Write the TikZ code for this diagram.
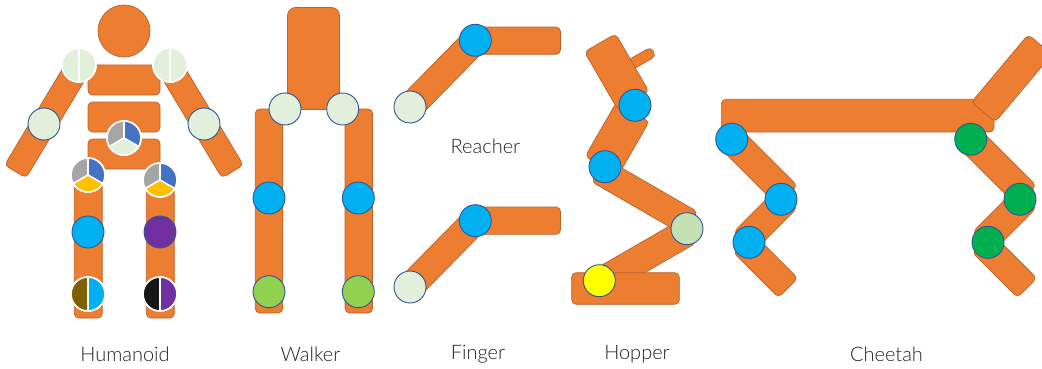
\documentclass[tikz,border=0pt]{standalone}
\usepackage{fontspec}
\setmainfont{Lato}[UprightFont={* Light}]
\definecolor{limbfill}{HTML}{ED7D31}
\definecolor{limbline}{HTML}{B9622A}
\definecolor{ringblue}{HTML}{2F5597}
\definecolor{palegreen}{HTML}{E2EFDA}
\definecolor{sagegreen}{HTML}{C5E0B4}
\definecolor{limegreen}{HTML}{92D050}
\definecolor{deepgreen}{HTML}{00B050}
\definecolor{skyblue}{HTML}{00B0F0}
\definecolor{royalblue}{HTML}{4472C4}
\definecolor{violet}{HTML}{7030A0}
\definecolor{midgray}{HTML}{A5A5A5}
\definecolor{gold}{HTML}{FFC000}
\definecolor{olive}{HTML}{7F6000}
\definecolor{nearblack}{HTML}{171717}
\definecolor{brightyellow}{HTML}{FFFF00}
\definecolor{captiontext}{HTML}{222222}
\tikzset{
  limb/.style={draw=limbline,fill=limbfill,line width=0.7pt,rounded corners=4.5pt,
    inner sep=0pt,outer sep=0pt},
  joint/.style={circle,draw=ringblue,line width=0.9pt,minimum size=32pt,inner sep=0pt,outer sep=0pt},
  splitjoint/.style={circle,draw=white,line width=1.6pt,minimum size=34pt,inner sep=0pt,outer sep=0pt},
  spoke/.style={draw=white,line width=1.6pt},
  caption/.style={text=captiontext,font=\fontsize{20}{24}\selectfont,inner sep=0pt}
}
% name, centre, length, width, angle
\newcommand{\limbbar}[5]{\node[limb,minimum width=#3pt,minimum height=#4pt,rotate=#5] (#1) at (#2) {};}
% name, centre, fill
\newcommand{\pin}[3]{\node[joint,fill=#3] (#1) at (#2) {};}
% The y axis points down here, so arc angles below are the negatives of the on-page angles.
% name, centre, left half, right half
\newcommand{\halfpin}[4]{%
  \node[splitjoint] (#1) at (#2) {};
  \fill[#3] (#1.center) ++(-90:17) arc[start angle=-90,end angle=-270,radius=17] -- cycle;
  \fill[#4] (#1.center) ++(-90:17) arc[start angle=-90,end angle=90,radius=17] -- cycle;
  \draw[spoke] (#1.north) -- (#1.south);
  \node[splitjoint] at (#1.center) {};}
% name, centre, upper right, bottom, upper left
\newcommand{\tripin}[5]{%
  \node[splitjoint] (#1) at (#2) {};
  \fill[#3] (#1.center) -- ++(-90:17) arc[start angle=-90,end angle=30,radius=17] -- cycle;
  \fill[#4] (#1.center) -- ++(30:17) arc[start angle=30,end angle=150,radius=17] -- cycle;
  \fill[#5] (#1.center) -- ++(150:17) arc[start angle=150,end angle=270,radius=17] -- cycle;
  \draw[spoke] (#1.center) -- (#1.90);
  \draw[spoke] (#1.center) -- (#1.-30);
  \draw[spoke] (#1.center) -- (#1.210);
  \node[splitjoint] at (#1.center) {};}
\begin{document}
\begin{tikzpicture}[x=1pt,y=-1pt]
\useasboundingbox (0,0) rectangle (1042,369);
\clip (0,0) rectangle (1042,369);

% Humanoid
\node[limb,circle,minimum size=52pt] (head) at (124,31) {};
\limbbar{armL}{47.5,118}{125}{25}{59}
\limbbar{armR}{200.5,118}{125}{25}{-59}
\limbbar{chest}{124,80}{72}{30}{0}
\limbbar{waist}{124,117}{72}{30}{0}
\limbbar{pelvis}{124,154}{72}{30}{0}
\limbbar{legL}{88.3,249}{28}{138}{0}
\limbbar{legR}{160.3,249}{28}{138}{0}
\halfpin{shoulderL}{79,65}{palegreen}{palegreen}
\halfpin{shoulderR}{170,65}{palegreen}{palegreen}
\pin{elbowL}{44,124}{palegreen}
\pin{elbowR}{204,124}{palegreen}
\tripin{abdomen}{124,138}{royalblue}{palegreen}{midgray}
\tripin{hipL}{88,175}{royalblue}{gold}{midgray}
\tripin{hipR}{160,180}{royalblue}{gold}{midgray}
\pin{kneeL}{88,232}{skyblue}
\pin{kneeR}{160,232}{violet}
\halfpin{ankleL}{88,294}{olive}{skyblue}
\halfpin{ankleR}{160,294}{nearblack}{violet}

% Walker
\node[limb,rounded corners=8pt,minimum width=52pt,minimum height=102pt] (walkTorso) at (313.5,58.5) {};
\limbbar{walkLegL}{269,211}{27.5}{204}{0}
\limbbar{walkLegR}{358.8,211}{27.5}{204}{0}
\pin{walkHipL}{285,109}{palegreen}
\pin{walkHipR}{342.7,109}{palegreen}
\pin{walkKneeL}{269,198}{skyblue}
\pin{walkKneeR}{358.3,198}{skyblue}
\pin{walkFootL}{269,291.7}{limegreen}
\pin{walkFootR}{358.3,291.7}{limegreen}

% Finger, upper and lower arm
\limbbar{upperTip}{515,40.7}{91}{27.3}{0}
\limbbar{upperBase}{442.7,73.7}{93}{27}{45.5}
\pin{upperRoot}{410,107}{palegreen}
\pin{upperMid}{475.3,40.3}{skyblue}
\limbbar{lowerTip}{515,220.7}{91}{27.3}{0}
\limbbar{lowerBase}{442.7,253.7}{93}{27}{45.5}
\pin{lowerRoot}{410,287}{palegreen}
\pin{lowerMid}{475.3,220.7}{skyblue}

% Hopper
\limbbar{hopNeck}{641.7,58.3}{27}{10.5}{30}
\limbbar{hopThigh}{617.2,139}{62.5}{38}{60}
\limbbar{hopTorso}{616.7,71.7}{66.7}{36}{-60}
\limbbar{hopShin}{644.4,256.7}{104}{28}{30}
\limbbar{hopCalf}{644.5,196.7}{107}{27}{-30}
\limbbar{hopFoot}{625.5,288.5}{107.6}{31.6}{0}
\pin{hopWaist}{635,105.3}{skyblue}
\pin{hopKnee}{605,166.7}{skyblue}
\pin{hopAnkle}{687,228.7}{sagegreen}
\pin{hopToe}{599.3,280.7}{brightyellow}

% Cheetah
\limbbar{catThighF}{760,168.2}{77.4}{28}{-45}
\limbbar{catShinF}{765.5,220}{62}{28}{45}
\limbbar{catFootF}{765.5,265.3}{64}{27.5}{-45}
\limbbar{catThighB}{999,168.2}{77.4}{28}{-45}
\limbbar{catShinB}{1004.5,220}{62}{28}{45}
\limbbar{catFootB}{1004.5,265.3}{64}{27.5}{-45}
\limbbar{catBody}{857.7,115.7}{272.7}{32.7}{0}
\limbbar{catHead}{1011.7,78.3}{88.3}{31}{50}
\pin{catHipF}{731.7,139.3}{skyblue}
\pin{catKneeF}{781,199.3}{skyblue}
\pin{catAnkleF}{749,242.3}{skyblue}
\pin{catHipB}{970.7,139.3}{deepgreen}
\pin{catKneeB}{1020,199.3}{deepgreen}
\pin{catAnkleB}{988,242.3}{deepgreen}

% Captions
\node[caption] (capHumanoid) at (125,354) {Humanoid};
\node[caption] (capWalker) at (310.5,354) {Walker};
\node[caption] (capFinger) at (478,354) {Finger};
\node[caption] (capHopper) at (637,354) {Hopper};
\node[caption] (capCheetah) at (886.5,354) {Cheetah};
\node[caption] (capReacher) at (485.5,146) {Reacher};
\end{tikzpicture}
\end{document}
